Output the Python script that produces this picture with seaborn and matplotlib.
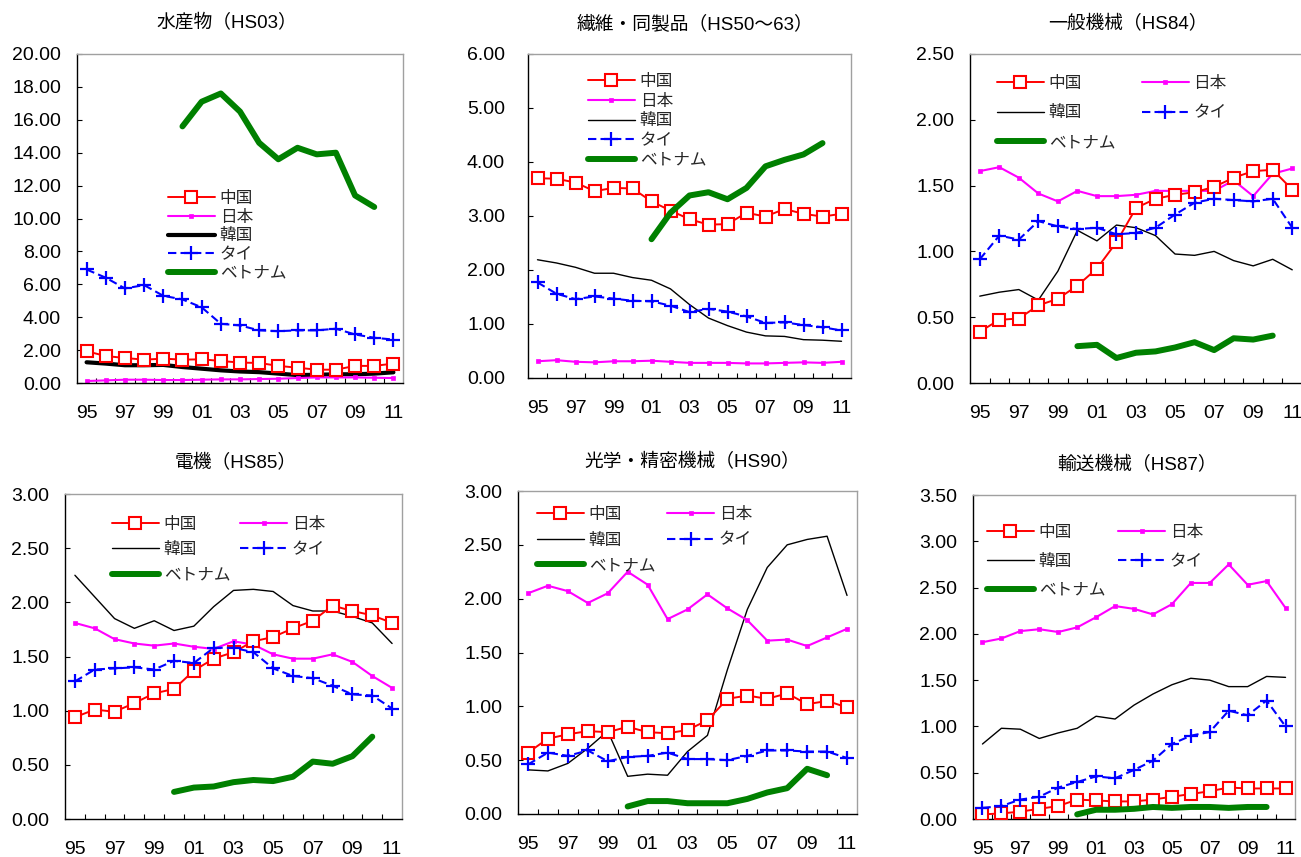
import numpy as np
import matplotlib
matplotlib.use("Agg")
import matplotlib.pyplot as plt
from matplotlib.ticker import FormatStrFormatter
import seaborn as sns

sns.set_style("white")
plt.rcParams["font.family"] = ["Liberation Sans", "Noto Sans CJK JP"]

W, H, DPI = 1301, 857, 100
nan = np.nan

# ---- data -------------------------------------------------------------
years = list(range(1995, 2012))
year_labels = [f"{y % 100:02d}" for y in years]
countries = ["中国", "日本", "韓国", "タイ", "ベトナム"]

# 水産物 (HS03)
hs03_china = [1.93, 1.64, 1.52, 1.42, 1.48, 1.42, 1.44, 1.34, 1.24, 1.22, 1.04, 0.93, 0.81, 0.81, 1.04, 1.04, 1.18]
hs03_japan = [0.12, 0.16, 0.20, 0.20, 0.18, 0.18, 0.20, 0.22, 0.22, 0.24, 0.26, 0.30, 0.34, 0.34, 0.34, 0.32, 0.30]
hs03_korea = [1.26, 1.18, 1.08, 1.08, 1.10, 0.97, 0.87, 0.77, 0.70, 0.66, 0.57, 0.48, 0.50, 0.53, 0.53, 0.57, 0.65]
hs03_thai = [6.90, 6.40, 5.75, 5.95, 5.30, 5.08, 4.60, 3.60, 3.50, 3.20, 3.15, 3.20, 3.20, 3.30, 2.95, 2.75, 2.64]
hs03_viet = [nan, nan, nan, nan, nan, 15.6, 17.1, 17.6, 16.5, 14.6, 13.6, 14.3, 13.9, 14.0, 11.4, 10.7, nan]

# 繊維・同製品 (HS50～63)
hs50_china = [3.70, 3.69, 3.62, 3.46, 3.52, 3.51, 3.27, 3.10, 2.94, 2.84, 2.85, 3.06, 2.99, 3.13, 3.04, 2.99, 3.04]
hs50_japan = [0.31, 0.33, 0.30, 0.29, 0.31, 0.31, 0.32, 0.30, 0.28, 0.28, 0.28, 0.27, 0.27, 0.28, 0.29, 0.28, 0.30]
hs50_korea = [2.19, 2.13, 2.05, 1.94, 1.94, 1.86, 1.81, 1.65, 1.36, 1.11, 0.97, 0.85, 0.78, 0.77, 0.71, 0.70, 0.68]
hs50_thai = [1.77, 1.56, 1.46, 1.51, 1.47, 1.43, 1.42, 1.34, 1.22, 1.28, 1.23, 1.14, 1.02, 1.03, 0.98, 0.94, 0.88]
hs50_viet = [nan, nan, nan, nan, nan, nan, 2.57, 3.06, 3.38, 3.44, 3.31, 3.52, 3.92, 4.04, 4.14, 4.35, nan]

# 一般機械 (HS84)
hs84_china = [0.39, 0.48, 0.49, 0.59, 0.64, 0.74, 0.87, 1.07, 1.33, 1.40, 1.43, 1.45, 1.49, 1.56, 1.61, 1.62, 1.47]
hs84_japan = [1.61, 1.64, 1.56, 1.44, 1.38, 1.46, 1.42, 1.42, 1.43, 1.46, 1.46, 1.46, 1.46, 1.54, 1.42, 1.59, 1.63]
hs84_korea = [0.66, 0.69, 0.71, 0.63, 0.85, 1.16, 1.08, 1.20, 1.18, 1.12, 0.98, 0.97, 1.00, 0.93, 0.89, 0.94, 0.86]
hs84_thai = [0.94, 1.12, 1.09, 1.23, 1.19, 1.17, 1.18, 1.13, 1.14, 1.18, 1.28, 1.37, 1.40, 1.39, 1.38, 1.40, 1.18]
hs84_viet = [nan, nan, nan, nan, nan, 0.28, 0.29, 0.19, 0.23, 0.24, 0.27, 0.31, 0.25, 0.34, 0.33, 0.36, nan]

# 電機 (HS85)
hs85_china = [0.94, 1.01, 0.99, 1.07, 1.16, 1.20, 1.37, 1.48, 1.54, 1.64, 1.68, 1.76, 1.83, 1.97, 1.92, 1.88, 1.81]
hs85_japan = [1.81, 1.76, 1.66, 1.62, 1.60, 1.62, 1.59, 1.57, 1.64, 1.61, 1.52, 1.48, 1.48, 1.52, 1.45, 1.32, 1.21]
hs85_korea = [2.25, 2.05, 1.85, 1.76, 1.83, 1.74, 1.78, 1.96, 2.11, 2.12, 2.10, 1.97, 1.92, 1.92, 1.87, 1.81, 1.62]
hs85_thai = [1.27, 1.38, 1.39, 1.40, 1.38, 1.46, 1.44, 1.58, 1.58, 1.54, 1.39, 1.32, 1.30, 1.23, 1.15, 1.14, 1.02]
hs85_viet = [nan, nan, nan, nan, nan, 0.25, 0.29, 0.30, 0.34, 0.36, 0.35, 0.39, 0.53, 0.51, 0.58, 0.76, nan]

# 光学・精密機械 (HS90)
hs90_china = [0.57, 0.70, 0.74, 0.77, 0.76, 0.81, 0.76, 0.75, 0.78, 0.87, 1.07, 1.10, 1.07, 1.12, 1.02, 1.05, 0.99]
hs90_japan = [2.05, 2.12, 2.07, 1.96, 2.05, 2.25, 2.13, 1.81, 1.90, 2.04, 1.91, 1.80, 1.61, 1.62, 1.56, 1.64, 1.72]
hs90_korea = [0.41, 0.40, 0.47, 0.61, 0.77, 0.35, 0.37, 0.36, 0.58, 0.73, 1.34, 1.90, 2.29, 2.50, 2.55, 2.58, 2.03]
hs90_thai = [0.46, 0.57, 0.54, 0.59, 0.49, 0.53, 0.54, 0.57, 0.51, 0.51, 0.50, 0.54, 0.59, 0.59, 0.58, 0.58, 0.52]
hs90_viet = [nan, nan, nan, nan, nan, 0.07, 0.12, 0.12, 0.10, 0.10, 0.10, 0.14, 0.20, 0.24, 0.42, 0.36, nan]

# 輸送機械 (HS87)
hs87_china = [0.05, 0.06, 0.08, 0.11, 0.14, 0.21, 0.20, 0.19, 0.19, 0.21, 0.24, 0.27, 0.30, 0.34, 0.33, 0.33, 0.33]
hs87_japan = [1.91, 1.95, 2.03, 2.05, 2.02, 2.07, 2.18, 2.30, 2.27, 2.21, 2.32, 2.55, 2.55, 2.75, 2.53, 2.57, 2.28]
hs87_korea = [0.81, 0.98, 0.97, 0.87, 0.93, 0.98, 1.11, 1.08, 1.23, 1.35, 1.45, 1.52, 1.50, 1.43, 1.43, 1.54, 1.53]
hs87_thai = [0.12, 0.14, 0.21, 0.24, 0.34, 0.40, 0.46, 0.44, 0.53, 0.63, 0.81, 0.90, 0.94, 1.17, 1.12, 1.28, 1.00]
hs87_viet = [nan, nan, nan, nan, nan, 0.05, 0.10, 0.10, 0.11, 0.13, 0.12, 0.13, 0.13, 0.12, 0.13, 0.13, nan]

# ---- line styles per country -----------------------------------------
styles = {
    "中国": dict(color="#FF0000", linewidth=1.4, marker="s", markersize=9,
               markerfacecolor="white", markeredgecolor="#FF0000",
               markeredgewidth=1.5, zorder=3),
    "日本": dict(color="#FF00FF", linewidth=1.5, marker="s", markersize=3.5,
               markerfacecolor="#FF00FF", markeredgecolor="#FF00FF",
               markeredgewidth=0.5, zorder=2.5),
    "韓国": dict(color="black", linewidth=1.0, zorder=2),
    "タイ": dict(color="#0000FF", linewidth=1.5, linestyle=(0, (4, 2)),
               marker="+", markersize=10, markeredgecolor="#0000FF",
               markeredgewidth=1.6, zorder=4),
    "ベトナム": dict(color="#008000", linewidth=4.3, solid_capstyle="round", zorder=5),
}

# ---- panel layout (pixel boxes: left, top, right, bottom) ------------
panels = [
    dict(title="水産物（HS03）", series=[hs03_china, hs03_japan, hs03_korea, hs03_thai, hs03_viet],
         ymax=20, ystep=2, box=(77, 54, 403, 383), title_xy=(227, 23), ypad=11.5,
         korea_lw=3.0, leg=dict(ncol=1, xy=(168, 190), labelspacing=0.1, columnspacing=1.0)),
    dict(title="繊維・同製品（HS50～63）", series=[hs50_china, hs50_japan, hs50_korea, hs50_thai, hs50_viet],
         ymax=6, ystep=1, box=(528, 54, 851, 378), title_xy=(695, 24), ypad=16.5,
         korea_lw=1.0, leg=dict(ncol=1, xy=(588, 73), labelspacing=0.16, columnspacing=1.0)),
    dict(title="一般機械（HS84）", series=[hs84_china, hs84_japan, hs84_korea, hs84_thai, hs84_viet],
         ymax=2.5, ystep=0.5, box=(970, 54, 1302, 383), title_xy=(1128, 24), ypad=11.5,
         korea_lw=1.0, leg=dict(ncol=2, xy=(997, 75), labelspacing=0.75, columnspacing=1.6)),
    dict(title="電機（HS85）", series=[hs85_china, hs85_japan, hs85_korea, hs85_thai, hs85_viet],
         ymax=3.0, ystep=0.5, box=(65, 494, 402, 819), title_xy=(236, 463), ypad=11.5,
         korea_lw=1.0, leg=dict(ncol=2, xy=(112, 515.5), labelspacing=0.51, columnspacing=0.6)),
    dict(title="光学・精密機械（HS90）", series=[hs90_china, hs90_japan, hs90_korea, hs90_thai, hs90_viet],
         ymax=3.0, ystep=0.5, box=(518, 491, 857, 814), title_xy=(692, 462), ypad=11.5,
         korea_lw=1.0, leg=dict(ncol=2, xy=(537, 506), labelspacing=0.51, columnspacing=0.72)),
    dict(title="輸送機械（HS87）", series=[hs87_china, hs87_japan, hs87_korea, hs87_thai, hs87_viet],
         ymax=3.5, ystep=0.5, box=(973, 495, 1295, 819), title_xy=(1137, 465), ypad=11.5,
         korea_lw=1.0, leg=dict(ncol=2, xy=(987, 524), labelspacing=0.71, columnspacing=0.78)),
]

fig = plt.figure(figsize=(W / DPI, H / DPI), dpi=DPI)
fig.patch.set_facecolor("white")

for p in panels:
    l, t, r, b = p["box"]
    ax = fig.add_axes([l / W, 1 - b / H, (r - l) / W, (b - t) / H])
    ax.set_facecolor("white")

    handles = {}
    for name, vals in zip(countries, p["series"]):
        kw = dict(styles[name])
        if name == "韓国":
            kw["linewidth"] = p["korea_lw"]
        sns.lineplot(x=years, y=vals, ax=ax, label=name, sort=False,
                     errorbar=None, **kw)
        handles[name] = ax.lines[-1]

    # axes ranges and ticks
    ax.set_xlim(1994.5, 2011.5)
    ax.set_ylim(0, p["ymax"])
    ax.set_xticks(years[::2])
    ax.set_xticklabels(year_labels[::2])
    ax.set_xticks([y + 0.5 for y in years[:-1]], minor=True)
    ax.set_yticks(np.arange(0, p["ymax"] + p["ystep"] / 2, p["ystep"]))
    ax.yaxis.set_major_formatter(FormatStrFormatter("%.2f"))
    ax.set_xlabel("")
    ax.set_ylabel("")
    ax.grid(False)

    ax.tick_params(axis="x", which="major", bottom=True, length=0, pad=16,
                   labelsize=14, labelcolor="black")
    ax.tick_params(axis="x", which="minor", bottom=True, direction="in",
                   length=3.6, width=0.8, color="black")
    ax.tick_params(axis="y", which="major", left=True, direction="in",
                   length=3.6, width=0.8, color="black", pad=p["ypad"],
                   labelsize=14, labelcolor="black")

    for side in ("left", "bottom"):
        ax.spines[side].set_color("black")
        ax.spines[side].set_linewidth(1.0)
    for side in ("top", "right"):
        ax.spines[side].set_color("#A0A0A0")
        ax.spines[side].set_linewidth(1.0)

    # legend
    lg = p["leg"]
    if lg["ncol"] == 1:
        order = countries
    else:
        order = ["中国", "韓国", "ベトナム", "日本", "タイ"]
    ax.legend([handles[n] for n in order], order, ncol=lg["ncol"],
              loc="upper left", bbox_to_anchor=(lg["xy"][0] / W, 1 - lg["xy"][1] / H),
              bbox_transform=fig.transFigure, frameon=False, borderpad=0,
              borderaxespad=0, handlelength=2.8, handletextpad=0.3,
              labelspacing=lg["labelspacing"], columnspacing=lg["columnspacing"],
              prop={"family": ["Noto Sans CJK JP"], "size": 12})

    fig.text(p["title_xy"][0] / W, 1 - p["title_xy"][1] / H, p["title"],
             ha="center", va="center", fontsize=13.5, color="black")

fig.savefig("out.png", dpi=DPI, facecolor="white")
